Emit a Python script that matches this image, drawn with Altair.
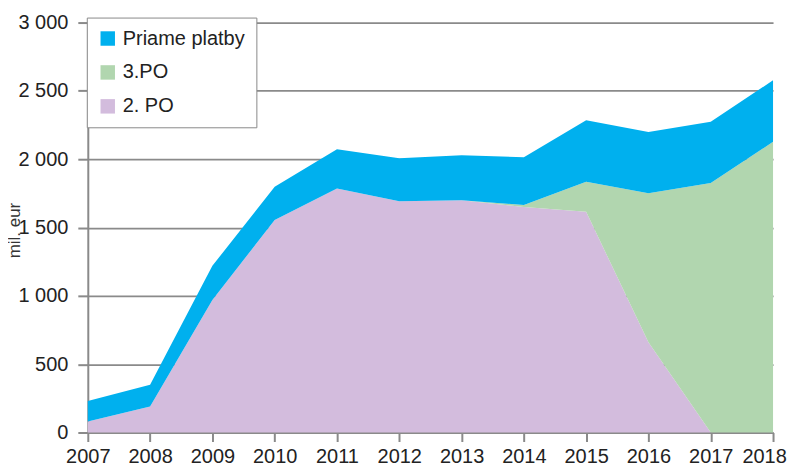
import altair as alt
import pandas as pd

years = [2007, 2008, 2009, 2010, 2011, 2012, 2013, 2014, 2015, 2016, 2017, 2018]
po2 = [80, 190, 970, 1555, 1786, 1693, 1700, 1650, 1615, 660, 0, 0]
po3 = [0, 0, 0, 0, 0, 0, 0, 14, 220, 1090, 1826, 2127]
priame = [150, 160, 250, 243, 287, 314, 329, 351, 450, 450, 449, 450]

series = ["Priame platby", "3.PO", "2. PO"]
colors = ["#00B0EE", "#B1D6AF", "#D3BCDD"]
stack_rank = {"2. PO": 0, "3.PO": 1, "Priame platby": 2}

rows = []
for i, y in enumerate(years):
    rows.append({"year": y, "series": "2. PO", "value": po2[i]})
    rows.append({"year": y, "series": "3.PO", "value": po3[i]})
    rows.append({"year": y, "series": "Priame platby", "value": priame[i]})
df = pd.DataFrame(rows)
df["rank"] = df["series"].map(stack_rank)

FONT = "Liberation Sans"
GRAY = "#8a8a8a"

chart = alt.Chart(df).mark_area(opacity=1, strokeWidth=0).encode(
    x=alt.X("year:Q",
            scale=alt.Scale(domain=[2007, 2018], nice=False, zero=False),
            axis=alt.Axis(values=years, format="d", title=None, grid=False,
                          labelFontSize=20, labelFont=FONT, labelColor="#222",
                          labelOffset=alt.ExprRef(expr="datum.value == 2018 ? -9 : 0"),
                          tickSize=9, tickColor=GRAY, tickWidth=2,
                          domainColor=GRAY, domainWidth=2, labelPadding=5,
                          labelFlush=False)),
    y=alt.Y("value:Q", stack="zero",
            scale=alt.Scale(domain=[0, 3000], nice=False),
            axis=alt.Axis(values=[0, 500, 1000, 1500, 2000, 2500, 3000],
                          labelExpr="replace(format(datum.value, ','), ',', ' ')",
                          title="mil. eur", titleFont=FONT, titleFontSize=17,
                          titleFontWeight="normal", titleColor="#333",
                          titleX=-64, titleY=208, titleAngle=-90,
                          labelFontSize=20, labelFont=FONT, labelColor="#222",
                          tickSize=10, tickColor=GRAY, tickWidth=2,
                          domainColor=GRAY, domainWidth=2, labelPadding=10,
                          grid=True, gridColor=GRAY, gridWidth=1.8)),
    color=alt.Color("series:N",
                    scale=alt.Scale(domain=series, range=colors),
                    legend=alt.Legend(title=None, orient="none", legendX=-1, legendY=-5,
                                      fillColor="white", strokeColor=GRAY,
                                      padding=11, symbolType="square", symbolSize=210,
                                      symbolStrokeWidth=0, symbolOpacity=1,
                                      labelFont=FONT, labelFontSize=20, labelColor="#222",
                                      labelOffset=5, rowPadding=14, labelLimit=300)),
    order=alt.Order("rank:Q", sort="ascending"),
).properties(
    width=687, height=411,
    autosize=alt.AutoSizeParams(type="none"),
    padding={"left": 80, "top": 14, "right": 15, "bottom": 40},
).configure_view(stroke=None).configure_axis(gridDash=[])

chart.save("out.html", embed_options={"renderer": "svg", "actions": False})
